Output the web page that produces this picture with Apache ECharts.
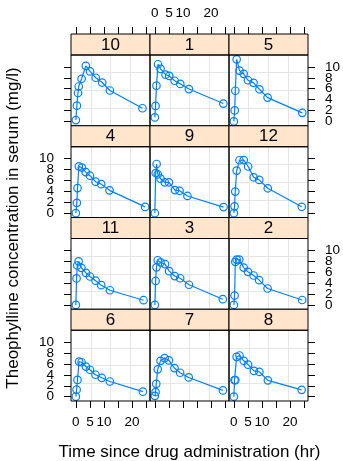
<!DOCTYPE html>
<html>
<head>
<meta charset="utf-8">
<script src="https://cdn.jsdelivr.net/npm/echarts@6/dist/echarts.min.js"></script>
<style>html,body{margin:0;padding:0;background:#fff}#c{width:343px;height:461px}</style>
</head>
<body>
<div id="c"></div>
<script>
// Theophylline data (subject: time, concentration)
const time1  = [0, 0.25, 0.57, 1.12, 2.02, 3.82, 5.10, 7.03, 9.05, 12.12, 24.37];
const conc1  = [0.74, 2.84, 6.57, 10.50, 9.66, 8.58, 8.36, 7.47, 6.89, 5.94, 3.28];
const time2  = [0, 0.27, 0.52, 1.00, 1.92, 3.50, 5.02, 7.03, 9.00, 12.00, 24.30];
const conc2  = [0.00, 1.72, 7.91, 8.31, 8.33, 6.85, 6.08, 5.40, 4.55, 3.01, 0.90];
const time3  = [0, 0.27, 0.58, 1.02, 2.02, 3.62, 5.08, 7.07, 9.00, 12.15, 24.17];
const conc3  = [0.00, 4.40, 6.90, 8.20, 7.80, 7.50, 6.20, 5.30, 4.90, 3.70, 1.05];
const time4  = [0, 0.35, 0.60, 1.07, 2.13, 3.50, 5.02, 7.02, 9.02, 11.98, 24.65];
const conc4  = [0.00, 1.89, 4.60, 8.60, 8.38, 7.54, 6.88, 5.78, 5.33, 4.19, 1.15];
const time5  = [0, 0.30, 0.52, 1.00, 2.02, 3.50, 5.02, 7.02, 9.10, 12.00, 24.35];
const conc5  = [0.00, 2.02, 5.63, 11.40, 9.33, 8.74, 7.56, 7.09, 5.90, 4.37, 1.57];
const time6  = [0, 0.27, 0.58, 1.15, 2.03, 3.57, 5.00, 7.00, 9.22, 12.10, 23.85];
const conc6  = [0.00, 1.29, 3.08, 6.44, 6.32, 5.53, 4.94, 4.02, 3.46, 2.78, 0.92];
const time7  = [0, 0.25, 0.50, 1.02, 2.02, 3.48, 5.00, 6.98, 9.00, 12.05, 24.22];
const conc7  = [0.15, 0.85, 2.35, 5.02, 6.58, 7.09, 6.66, 5.25, 4.39, 3.53, 1.15];
const time8  = [0, 0.25, 0.52, 0.98, 2.02, 3.53, 5.05, 7.15, 9.07, 12.10, 24.12];
const conc8  = [0.00, 3.05, 3.05, 7.31, 7.56, 6.59, 5.88, 4.73, 4.57, 3.00, 1.25];
const time9  = [0, 0.30, 0.63, 1.05, 2.02, 3.53, 5.02, 7.17, 8.80, 11.60, 24.43];
const conc9  = [0.00, 7.37, 9.03, 7.14, 6.33, 5.66, 5.67, 4.24, 4.11, 3.16, 1.12];
const time10 = [0, 0.37, 0.77, 1.02, 2.05, 3.55, 5.05, 7.08, 9.38, 12.10, 23.70];
const conc10 = [0.24, 2.89, 5.22, 6.41, 7.83, 10.21, 9.18, 8.02, 7.14, 5.68, 2.42];
const time11 = [0, 0.25, 0.50, 0.98, 1.98, 3.60, 5.02, 7.03, 9.03, 12.12, 24.08];
const conc11 = [0.00, 4.86, 7.24, 8.00, 6.81, 5.87, 5.22, 4.45, 3.62, 2.69, 0.86];
const time12 = [0, 0.25, 0.50, 1.00, 2.00, 3.52, 5.07, 7.07, 9.03, 12.05, 24.15];
const conc12 = [0.00, 1.25, 3.96, 7.82, 9.72, 9.75, 8.57, 6.59, 6.11, 4.57, 1.17];

const panelOrder = [10, 1, 5, 4, 9, 12, 11, 3, 2, 6, 7, 8];
const xTicks = [0, 5, 10, 15, 20, 25];
const xTickLabels = [0, 5, 10, 20];
const yTicks = [0, 2, 4, 6, 8, 10];
const yLabelsA = [0, 4, 8];
const yLabelsB = [2, 6, 10];
const xTitle = 'Time since drug administration (hr)';
const yTitle = 'Theophylline concentration in serum (mg/l)';

const timesBy = [null, time1, time2, time3, time4, time5, time6, time7, time8, time9, time10, time11, time12];
const concsBy = [null, conc1, conc2, conc3, conc4, conc5, conc6, conc7, conc8, conc9, conc10, conc11, conc12];

// axis ranges with lattice-style 7% padding
const allT = [].concat(...timesBy.slice(1)), allC = [].concat(...concsBy.slice(1));
const tMin = Math.min(...allT), tMax = Math.max(...allT);
const cMin = Math.min(...allC), cMax = Math.max(...allC);
const xMin = tMin - 0.07 * (tMax - tMin), xMax = tMax + 0.07 * (tMax - tMin);
const yMin = cMin - 0.07 * (cMax - cMin), yMax = cMax + 0.07 * (cMax - cMin);

// layout
const L = 71, PW = 79, TOP = 34, BOTTOM = 401, SH = 21;
const RH = (BOTTOM - TOP) / 4, PH = RH - SH;
const FONT = 'Liberation Sans, Arial, Helvetica, sans-serif';
const BLUE = '#0080ff';

const grids = [], xAxes = [], yAxes = [], extraY = [], series = [], graphics = [];
const tickFont = { fontSize: 13.5, color: '#000', fontFamily: FONT };
const noOverlap = { hideOverlap: false, showMinLabel: true, showMaxLabel: true };

panelOrder.forEach((subj, i) => {
  const row = Math.floor(i / 3), col = i % 3;
  const left = L + col * PW, stripTop = TOP + row * RH, top = stripTop + SH;
  grids.push({ left: left, top: top, width: PW, height: PH, containLabel: false, show: false });

  // main x axis
  const xPos = row === 0 ? 'top' : 'bottom';
  const showX = row === 0 || row === 3;
  const showXLab = (row === 0 && col === 1) || (row === 3 && col !== 1);
  xAxes.push({
    gridIndex: i, type: 'value', min: xMin, max: xMax, position: xPos,
    offset: row === 0 ? SH : 0,
    axisLine: { show: false, onZero: false },
    axisTick: { show: showX, customValues: xTicks, length: 7, inside: false, lineStyle: { color: '#000', width: 1 } },
    axisLabel: Object.assign({ show: showXLab, customValues: xTickLabels, margin: 14 }, tickFont, noOverlap),
    splitLine: { show: false }
  });
  // grid helper x axis
  xAxes.push({
    gridIndex: i, type: 'value', min: 0, max: 4, interval: 1, position: xPos === 'top' ? 'bottom' : 'top',
    axisLine: { show: false, onZero: false }, axisTick: { show: false }, axisLabel: { show: false },
    splitLine: { show: true, showMinLine: false, showMaxLine: false, lineStyle: { color: '#e6e6e6', width: 1 } }
  });

  // main y axis
  const yPos = col === 2 ? 'right' : 'left';
  const showY = col === 0 || col === 2;
  const showYLab = (col === 0 && (row === 1 || row === 3)) || (col === 2 && (row === 0 || row === 2));
  yAxes.push({
    gridIndex: i, type: 'value', min: yMin, max: yMax, position: yPos,
    axisLine: { show: false, onZero: false },
    axisTick: { show: showY, customValues: yTicks, length: 7, inside: false, lineStyle: { color: '#000', width: 1 } },
    axisLabel: Object.assign({ show: showYLab, customValues: yLabelsA, margin: 17 }, tickFont, noOverlap),
    splitLine: { show: false }
  });
  yAxes.push({
    gridIndex: i, type: 'value', min: 0, max: 4, interval: 1, position: yPos === 'left' ? 'right' : 'left',
    axisLine: { show: false, onZero: false }, axisTick: { show: false }, axisLabel: { show: false },
    splitLine: { show: true, showMinLine: false, showMaxLine: false, lineStyle: { color: '#e6e6e6', width: 1 } }
  });
  if (showYLab) {
    extraY.push({
      gridIndex: i, type: 'value', min: yMin, max: yMax, position: yPos, offset: 0,
      axisLine: { show: false, onZero: false }, axisTick: { show: false },
      axisLabel: Object.assign({ show: true, customValues: yLabelsB, margin: 17 }, tickFont, noOverlap),
      splitLine: { show: false }
    });
  }

  const t = timesBy[subj], c = concsBy[subj];
  series.push({
    type: 'line', xAxisIndex: 2 * i, yAxisIndex: 2 * i,
    data: t.map((v, k) => [v, c[k]]),
    symbol: 'circle', symbolSize: 7.5,
    itemStyle: { color: 'rgba(0,0,0,0)', borderColor: BLUE, borderWidth: 1.2 },
    lineStyle: { color: BLUE, width: 1.2 },
    emphasis: { disabled: true }, silent: true, clip: false, z: 3
  });

  // strip
  graphics.push({
    type: 'rect', shape: { x: left, y: stripTop, width: PW, height: SH }, z: 10,
    style: { fill: '#ffe5cc', stroke: '#000', lineWidth: 1 }
  });
  graphics.push({
    type: 'text', x: left + PW / 2, y: stripTop + SH / 2 + 0.5, z: 11,
    style: { text: String(subj), fontSize: 17, fontFamily: FONT, fill: '#000', align: 'center', verticalAlign: 'middle' }
  });
  // panel border
  graphics.push({
    type: 'rect', shape: { x: left, y: top, width: PW, height: PH }, z: 10,
    style: { fill: 'none', stroke: '#000', lineWidth: 1 }
  });
});

graphics.push({
  type: 'text', x: L + 1.5 * PW, y: 452, z: 11,
  style: { text: xTitle, fontSize: 17, fontFamily: FONT, fill: '#000', align: 'center', verticalAlign: 'middle' }
});
graphics.push({
  type: 'text', x: 13, y: (TOP + SH + BOTTOM) / 2, rotation: Math.PI / 2, z: 11,
  style: { text: yTitle, fontSize: 17, fontFamily: FONT, fill: '#000', align: 'center', verticalAlign: 'middle' }
});

const chart = echarts.init(document.getElementById('c'), null, { renderer: 'canvas' });
chart.setOption({
  animation: false,
  backgroundColor: '#fff',
  grid: grids, xAxis: xAxes, yAxis: yAxes.concat(extraY), series: series,
  graphic: { elements: graphics }
});
</script>
</body>
</html>
